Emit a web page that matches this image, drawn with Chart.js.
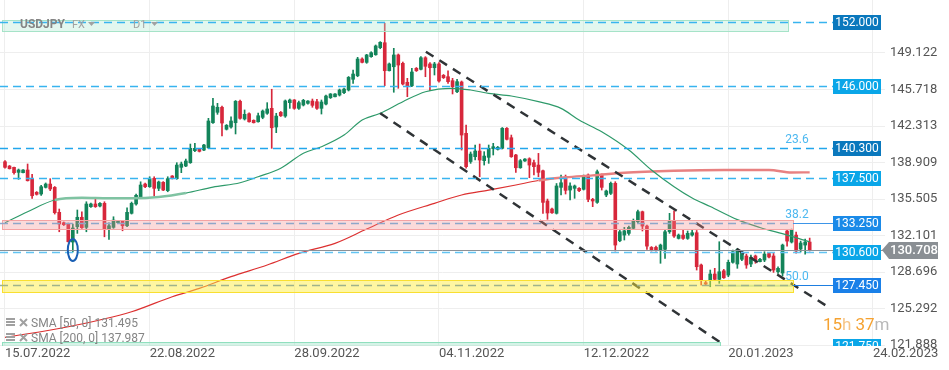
<!DOCTYPE html>
<html lang="pt-BR">
<head>
<meta charset="utf-8">
<title>USDJPY D1</title>
<script src="https://cdn.jsdelivr.net/npm/chart.js@4.4.0/dist/chart.umd.min.js"></script>
<style>
  html, body { margin: 0; padding: 0; background: #ffffff; overflow: hidden; }
  canvas { display: block; }
</style>
</head>
<body>
<canvas id="grafico" width="949" height="370"></canvas>
<script>
// Velas diárias USDJPY (FX, D1), 15.07.2022 até 10.02.2023
const opens = [
  138.98, 138.58, 138.46, 137.99, 137.96, 138.21, 137.40, 136.13, 135.97, 136.59,
  136.90, 136.59, 134.26, 133.29, 133.20, 131.49, 132.92, 133.80, 132.86, 134.79,
  135.04, 134.85, 135.10, 132.70, 132.86, 133.29, 133.45, 133.01, 134.17, 135.04,
  135.72, 136.90, 136.65, 137.43, 136.50, 137.06, 136.28, 137.65, 137.40, 138.46,
  138.58, 138.89, 140.01, 140.17, 140.07, 140.29, 142.62, 143.59, 144.06, 142.01,
  142.22, 142.62, 144.62, 142.97, 143.46, 142.84, 142.71, 143.12, 143.50, 143.96,
  142.22, 143.59, 143.24, 144.49, 144.74, 143.96, 144.27, 144.43, 144.64, 144.58,
  143.96, 144.36, 144.95, 145.04, 145.20, 145.42, 145.67, 146.67, 147.00, 148.56,
  148.25, 148.78, 148.96, 149.62, 150.08, 147.47, 147.84, 148.94, 148.16, 146.39,
  146.07, 147.69, 147.60, 148.68, 148.10, 147.75, 148.10, 147.04, 146.91, 146.54,
  145.51, 146.42, 141.63, 139.00, 139.45, 139.98, 139.08, 139.39, 140.20, 140.14,
  140.23, 142.10, 141.22, 139.61, 138.42, 139.05, 139.26, 138.89, 138.67, 138.14,
  135.32, 134.57, 134.17, 136.59, 137.43, 136.34, 136.50, 136.50, 136.41, 137.74,
  135.47, 135.19, 137.74, 135.88, 136.03, 136.97, 131.61, 132.14, 132.30, 132.77,
  133.38, 134.32, 132.98, 130.99, 130.99, 130.75, 130.81, 132.45, 133.48, 131.83,
  132.14, 131.83, 132.14, 132.36, 129.35, 127.70, 127.95, 128.51, 128.01, 128.81,
  128.41, 129.60, 129.44, 129.88, 130.19, 129.44, 130.19, 129.66, 129.81, 130.42,
  130.19, 128.72, 128.60, 132.52, 131.49, 132.14, 130.84, 131.21, 131.49
];
const highs = [
  139.08, 138.63, 138.49, 138.30, 138.26, 138.77, 137.81, 136.20, 136.78, 137.00,
  137.40, 136.67, 134.57, 133.36, 133.26, 133.17, 134.48, 134.32, 135.25, 135.13,
  135.47, 135.17, 135.25, 133.29, 133.85, 133.50, 133.50, 134.69, 135.22, 135.97,
  137.11, 137.00, 137.58, 137.58, 137.18, 137.13, 137.58, 137.69, 138.89, 138.95,
  139.23, 140.63, 140.70, 140.21, 140.61, 143.03, 144.90, 144.43, 144.18, 142.45,
  143.18, 144.69, 144.74, 143.81, 143.55, 142.89, 143.52, 143.81, 144.49, 145.74,
  143.50, 143.67, 144.74, 144.83, 144.78, 144.64, 144.80, 144.69, 144.83, 144.80,
  144.74, 145.20, 145.34, 145.34, 145.76, 145.86, 146.93, 147.54, 148.72, 148.66,
  149.00, 149.24, 149.87, 150.18, 151.90, 148.19, 149.56, 149.03, 148.28, 146.76,
  147.69, 147.77, 148.78, 148.78, 148.22, 148.25, 148.22, 147.12, 147.47, 146.76,
  146.67, 146.51, 142.41, 139.89, 140.54, 140.63, 139.92, 140.54, 140.70, 140.41,
  142.17, 142.17, 141.47, 139.67, 139.19, 139.28, 139.35, 139.14, 139.76, 138.21,
  135.50, 134.66, 136.95, 137.74, 137.74, 137.02, 136.81, 136.57, 137.74, 137.84,
  135.57, 138.21, 137.84, 136.34, 137.09, 137.12, 132.61, 132.86, 132.98, 133.64,
  134.48, 134.38, 133.08, 131.07, 131.11, 131.30, 132.61, 134.17, 134.41, 132.24,
  132.61, 132.52, 132.61, 132.57, 129.44, 127.86, 128.88, 129.04, 131.52, 128.94,
  129.81, 130.75, 130.90, 130.59, 130.37, 130.28, 130.28, 129.96, 130.59, 130.50,
  130.43, 129.19, 131.30, 132.61, 132.70, 132.42, 131.58, 131.77, 131.86
];
const lows = [
  138.37, 138.30, 137.83, 137.34, 137.93, 137.18, 135.57, 135.87, 135.85, 136.53,
  136.28, 134.10, 132.45, 133.03, 131.49, 130.56, 132.30, 132.77, 132.45, 134.71,
  134.72, 134.76, 131.98, 131.74, 132.77, 133.26, 132.54, 132.92, 134.10, 134.94,
  135.66, 136.57, 136.59, 135.78, 136.28, 136.28, 136.18, 137.37, 137.34, 137.96,
  138.52, 138.83, 139.92, 139.89, 140.01, 140.20, 142.56, 143.40, 141.38, 141.94,
  142.10, 141.57, 142.94, 142.87, 142.66, 142.59, 142.66, 142.99, 143.40, 140.23,
  141.69, 143.20, 143.12, 143.96, 143.87, 143.87, 144.18, 144.36, 144.06, 143.87,
  143.43, 144.27, 144.88, 145.02, 145.11, 145.34, 145.58, 146.29, 146.91, 148.19,
  148.16, 148.72, 148.91, 149.52, 146.07, 147.44, 145.46, 145.83, 146.14, 145.05,
  145.98, 147.40, 147.54, 146.91, 145.60, 147.07, 146.39, 146.74, 146.29, 145.30,
  145.42, 140.07, 138.37, 138.83, 139.14, 137.58, 138.67, 138.83, 139.61, 140.07,
  140.17, 141.01, 139.39, 137.99, 138.37, 139.00, 137.49, 137.74, 137.58, 134.17,
  133.61, 134.15, 134.10, 135.88, 135.97, 135.41, 135.57, 136.20, 136.34, 135.25,
  134.79, 135.10, 136.34, 135.72, 135.92, 130.65, 131.52, 131.68, 132.14, 132.70,
  133.29, 132.52, 130.81, 130.65, 130.65, 129.51, 129.97, 132.30, 131.93, 131.77,
  131.74, 131.74, 132.05, 128.88, 127.48, 127.48, 127.32, 127.95, 127.64, 128.10,
  128.26, 129.51, 129.04, 129.75, 129.04, 129.19, 129.51, 129.63, 129.66, 130.00,
  128.66, 128.57, 128.32, 131.11, 131.40, 130.46, 130.56, 130.37, 130.65
];
const closes = [
  138.46, 138.33, 137.96, 138.21, 138.21, 137.21, 135.81, 135.94, 136.65, 136.90,
  136.44, 134.23, 133.17, 133.11, 131.52, 132.80, 133.80, 132.83, 135.04, 135.04,
  134.79, 135.10, 132.70, 133.01, 133.54, 133.45, 133.01, 134.26, 135.10, 135.85,
  136.81, 136.65, 137.40, 136.50, 137.09, 136.34, 137.40, 137.40, 138.67, 138.77,
  139.05, 140.23, 140.23, 139.95, 140.54, 142.78, 144.18, 144.06, 142.59, 142.38,
  142.78, 144.62, 143.03, 143.40, 142.71, 142.62, 143.27, 143.71, 143.90, 142.15,
  143.24, 143.27, 144.65, 144.74, 143.96, 144.49, 144.71, 144.64, 144.24, 143.96,
  144.55, 145.11, 145.30, 145.30, 145.67, 145.76, 146.85, 147.16, 148.56, 148.25,
  148.94, 149.15, 149.78, 150.12, 147.47, 148.10, 148.94, 148.00, 146.23, 146.07,
  147.35, 147.47, 148.68, 147.88, 147.75, 148.10, 146.51, 146.82, 146.45, 145.98,
  146.45, 141.47, 138.52, 139.70, 139.98, 139.14, 139.51, 140.23, 140.38, 140.33,
  142.10, 141.07, 139.45, 138.42, 139.08, 139.23, 138.67, 138.52, 137.99, 135.19,
  134.20, 134.22, 136.72, 137.02, 136.31, 136.72, 136.72, 136.28, 137.65, 135.47,
  135.32, 138.05, 136.59, 136.25, 136.97, 131.21, 132.45, 132.54, 132.86, 133.48,
  134.32, 132.98, 131.11, 130.75, 130.75, 131.21, 132.45, 133.48, 132.05, 132.14,
  131.83, 132.30, 132.36, 129.19, 127.95, 127.57, 128.51, 128.01, 128.72, 128.16,
  129.60, 130.59, 130.81, 130.49, 129.35, 130.07, 129.75, 129.88, 130.37, 130.09,
  128.88, 129.04, 131.21, 131.58, 132.61, 130.65, 131.40, 131.49, 130.708
];

// Eixo X: posição (índice da vela) de cada data; 24.02.2023 fica no futuro
const dateLabels = ['15.07.2022', '22.08.2022', '28.09.2022', '04.11.2022', '12.12.2022', '20.01.2023', '24.02.2023'];
const dateIdx = [0, 32, 64, 96, 128, 160, 192];

// Eixo Y
const yTicks = [121.888, 125.292, 128.696, 132.101, 135.505, 138.909, 142.313, 145.718, 149.122];

// Médias móveis
const sma50Idx = [0, 5, 11, 17, 23, 28, 34, 40, 46, 52, 56, 61, 66, 70, 75, 79, 83, 88, 93, 99, 103, 107, 112, 118, 123, 127, 132, 138, 143, 148, 152, 156, 162, 167, 173, 178];
const sma50Val = [133.29, 134.32, 135.41, 135.62, 135.57, 135.57, 135.69, 136.06, 136.62, 137.02, 137.58, 138.37, 139.77, 140.38, 141.47, 142.87, 143.50, 144.58, 145.51, 145.83, 145.67, 145.36, 145.11, 144.58, 143.96, 142.87, 141.77, 140.07, 138.21, 136.65, 135.60, 134.80, 133.58, 132.85, 132.14, 131.50];
const sma200Idx = [0, 14, 28, 37, 43, 50, 58, 65, 73, 80, 87, 95, 101, 107, 113, 118, 124, 130, 137, 148, 159, 169, 174, 178];
const sma200Val = [122.60, 123.59, 124.99, 126.39, 127.17, 128.26, 129.35, 130.44, 131.37, 132.70, 134.01, 135.10, 135.88, 136.34, 136.81, 137.23, 137.53, 137.71, 137.96, 138.14, 138.21, 138.21, 137.98, 137.99];
const sma50Last = 131.495;
const sma200Last = 137.987;

// Canal de baixa (linhas tracejadas pretas)
const upperIdx = [93.1, 181.8];
const upperVal = [149.24, 125.52];
const lowerIdx = [83.0, 158.2];
const lowerVal = [143.50, 122.14];

// Níveis horizontais, zonas e textos
const levels = [152.000, 146.000, 140.300, 137.500, 133.250, 130.600, 127.450, 121.750];
const lastPrice = 130.708;
const fibText = ['23.6', '38.2', '50.0'];
const fibLevel = [140.300, 133.250, 127.450];
const zoneTop = [152.20, 133.54, 127.95, 122.20];
const zoneBottom = [151.17, 132.68, 126.83, 121.00];
const zoneEndIdx = [173.2, 174.3, 174.3, 158.2];
const supportIdx = [158.5, 174.3];
const supportVal = [127.42, 127.42];
const markIdx = 15;
const markVal = 130.75;
const timerParts = ['15', 'h', '37', 'm'];

const FONT = 'Roboto, "Noto Sans", sans-serif';
const GREEN = '#13845a';
const RED = '#d7273b';

const idx = opens.map((_, i) => i);
const candleColor = idx.map(i => closes[i] >= opens[i] ? GREEN : RED);
const wicks = idx.map(i => ({ x: i, y: [lows[i], highs[i]] }));
const bodies = idx.map(i => ({ x: i, y: [opens[i], closes[i]] }));
const pts = (xs, ys) => xs.map((v, i) => ({ x: v, y: ys[i] }));

// estilos das zonas e das etiquetas de preço
const zoneStyle = [
  { fill: 'rgba(175,232,208,0.35)', border: '#a6e3c8' },
  { fill: 'rgba(244,140,140,0.32)', border: '#f5a3a3' },
  { fill: 'rgba(253,236,60,0.48)', border: '#f9df30' },
  { fill: 'rgba(150,226,196,0.40)', border: '#90dfbe' }
];
const levelStyle = [
  { dash: '#38b4ef', bg: '#0a78bd' },
  { dash: '#38b4ef', bg: '#0aa6e8' },
  { dash: '#22a6ec', bg: '#0a78bd' },
  { dash: '#38b4ef', bg: '#0aa6e8' },
  { dash: '#8fa7c9', bg: '#1a8ae8', zone: 1, tail: '#3d95e8' },
  { dash: '#62c4f2', bg: '#0aa6e8' },
  { dash: '#9fb38c', bg: '#1a80e8', zone: 2, tail: '#1e7ee0' },
  { dash: null, bg: '#0aa6e8' }
];

function priceTag(ctx, text, left, cy, bg) {
  ctx.fillStyle = bg;
  ctx.fillRect(left, Math.round(cy) - 7, 48, 15);
  ctx.fillStyle = '#ffffff';
  ctx.font = '12px ' + FONT;
  ctx.textAlign = 'center';
  ctx.textBaseline = 'middle';
  ctx.fillText(text, left + 24, Math.round(cy) + 1);
}

const overlay = {
  id: 'overlay',
  afterDatasetsDraw(chart) {
    const { ctx, chartArea: a, scales: { x, y } } = chart;
    const tagLeft = a.right - 52;

    ctx.save();
    ctx.beginPath();
    ctx.rect(a.left, a.top, a.right - a.left, a.bottom - a.top);
    ctx.clip();

    // zonas por cima das velas
    zoneTop.forEach((top, k) => {
      const x0 = x.getPixelForValue(-0.66);
      const x1 = x.getPixelForValue(zoneEndIdx[k]);
      const y0 = Math.round(y.getPixelForValue(top));
      const y1 = Math.round(y.getPixelForValue(zoneBottom[k]));
      ctx.fillStyle = zoneStyle[k].fill;
      ctx.fillRect(x0, y0, x1 - x0, y1 - y0);
      ctx.strokeStyle = zoneStyle[k].border;
      ctx.lineWidth = 1;
      ctx.strokeRect(Math.round(x0) + 0.5, y0 + 0.5, Math.round(x1 - x0), y1 - y0);
    });

    // linha do preço atual
    const pyLast = Math.round(y.getPixelForValue(lastPrice)) + 0.5;
    ctx.strokeStyle = '#8d9196';
    ctx.lineWidth = 1;
    ctx.beginPath();
    ctx.moveTo(a.left, pyLast);
    ctx.lineTo(a.right, pyLast);
    ctx.stroke();

    // níveis tracejados
    levels.forEach((lv, k) => {
      const st = levelStyle[k];
      const py = Math.round(y.getPixelForValue(lv)) + 0.5;
      if (st.dash) {
        const end = st.zone ? x.getPixelForValue(zoneEndIdx[st.zone]) : tagLeft;
        ctx.strokeStyle = st.dash;
        ctx.lineWidth = 1.5;
        ctx.setLineDash([8, 5]);
        ctx.beginPath();
        ctx.moveTo(a.left, py);
        ctx.lineTo(end, py);
        ctx.stroke();
        ctx.setLineDash([]);
        if (st.tail) {
          ctx.strokeStyle = st.tail;
          ctx.lineWidth = 1;
          ctx.beginPath();
          ctx.moveTo(end, py);
          ctx.lineTo(tagLeft, py);
          ctx.stroke();
        }
      }
      if (k === levels.length - 1) priceTag(ctx, lv.toFixed(3), tagLeft, y.getPixelForValue(lv), st.bg);
    });

    // elipse azul marcando a mínima
    ctx.strokeStyle = '#1a5fb4';
    ctx.lineWidth = 2;
    ctx.beginPath();
    ctx.ellipse(x.getPixelForValue(markIdx), y.getPixelForValue(markVal), 5, 11, 0, 0, Math.PI * 2);
    ctx.stroke();
    ctx.restore();

    // etiquetas de preço
    ctx.save();
    levels.slice(0, -1).forEach((lv, k) => {
      priceTag(ctx, lv.toFixed(3), tagLeft, y.getPixelForValue(lv), levelStyle[k].bg);
    });

    // etiqueta do último preço (seta cinza)
    const cy = Math.round(y.getPixelForValue(lastPrice));
    ctx.fillStyle = '#8a8f94';
    ctx.beginPath();
    ctx.moveTo(a.right - 3, cy);
    ctx.lineTo(a.right + 4, cy - 8);
    ctx.lineTo(a.right + 53, cy - 8);
    ctx.lineTo(a.right + 53, cy + 9);
    ctx.lineTo(a.right + 4, cy + 9);
    ctx.closePath();
    ctx.fill();
    ctx.fillStyle = '#ffffff';
    ctx.font = '500 13px ' + FONT;
    ctx.textAlign = 'left';
    ctx.textBaseline = 'middle';
    ctx.fillText(lastPrice.toFixed(3), a.right + 5, cy + 1);

    // textos de Fibonacci
    ctx.fillStyle = '#4cb8f0';
    ctx.font = '12px ' + FONT;
    fibText.forEach((t, k) => {
      ctx.fillText(t, x.getPixelForValue(172.6), y.getPixelForValue(fibLevel[k]) - 8);
    });

    // cabeçalho
    ctx.font = 'bold 12px ' + FONT;
    ctx.fillStyle = '#858585';
    ctx.fillText('USDJPY', 20, 25);
    ctx.font = '11px ' + FONT;
    ctx.fillStyle = '#a2a2a2';
    ctx.fillText('FX', 72, 25);
    ctx.fillText('D1', 133, 25);
    [[88, 22], [151, 22]].forEach(([tx, ty]) => {
      ctx.beginPath();
      ctx.moveTo(tx, ty);
      ctx.lineTo(tx + 7, ty);
      ctx.lineTo(tx + 3.5, ty + 4);
      ctx.closePath();
      ctx.fill();
    });

    // legenda das médias
    const legend = [['SMA [50, 0] ' + sma50Last.toFixed(3), 323], ['SMA [200, 0] ' + sma200Last.toFixed(3), 338]];
    legend.forEach(([t, ly]) => {
      ctx.fillStyle = '#a0a0a0';
      ctx.fillRect(6, ly - 5, 9, 2);
      ctx.fillRect(6, ly - 2, 9, 2);
      ctx.fillRect(6, ly + 1, 9, 2);
      ctx.strokeStyle = '#a0a0a0';
      ctx.lineWidth = 2;
      ctx.beginPath();
      ctx.moveTo(20, ly - 4); ctx.lineTo(27, ly + 3);
      ctx.moveTo(27, ly - 4); ctx.lineTo(20, ly + 3);
      ctx.stroke();
      ctx.fillStyle = '#858585';
      ctx.font = '12px ' + FONT;
      ctx.fillText(t, 31, ly + 1);
    });

    // contador de tempo da vela
    const timerColor = ['#f5a231', '#f6c588', '#f5a231', '#b8b8b8'];
    ctx.font = '17px ' + FONT;
    let tx = 823;
    timerParts.forEach((t, k) => {
      ctx.fillStyle = timerColor[k];
      ctx.fillText(t, tx, 326);
      tx += ctx.measureText(t).width + (k === 1 ? 4 : 0);
    });
    ctx.restore();
  }
};

new Chart(document.getElementById('grafico'), {
  type: 'line',
  data: {
    datasets: [
      { type: 'line', data: pts(upperIdx, upperVal), borderColor: '#2f3336', borderWidth: 2.5, borderDash: [9, 7], pointRadius: 0, order: 0 },
      { type: 'line', data: pts(lowerIdx, lowerVal), borderColor: '#2f3336', borderWidth: 2.5, borderDash: [9, 7], pointRadius: 0, order: 0 },
      { type: 'line', data: pts(supportIdx, supportVal), borderColor: 'rgba(60,170,120,0.35)', borderWidth: 2, pointRadius: 0, order: 0 },
      {
        type: 'line', data: pts(sma50Idx, sma50Val), borderColor: '#2e9a6a', borderWidth: 1.2,
        pointRadius: 0, cubicInterpolationMode: 'monotone', order: 1,
        segment: {
          borderColor: c => (c.p0.parsed.x >= 11 && c.p0.parsed.x < 40) ? '#7fc3a2' : '#2e9a6a',
          borderWidth: c => (c.p0.parsed.x >= 11 && c.p0.parsed.x < 40) ? 2.4 : 1.2
        }
      },
      {
        type: 'line', data: pts(sma200Idx, sma200Val), borderColor: '#d9342b', borderWidth: 1.2,
        pointRadius: 0, cubicInterpolationMode: 'monotone', order: 1,
        segment: {
          borderColor: c => c.p0.parsed.x >= 118 ? '#e88181' : '#dc3030',
          borderWidth: c => c.p0.parsed.x >= 118 ? 2.4 : 1.2
        }
      },
      { type: 'bar', data: bodies, backgroundColor: candleColor, barThickness: 3, grouped: false, borderWidth: 0, borderSkipped: false, order: 2 },
      { type: 'bar', data: wicks, backgroundColor: candleColor, barThickness: 1, grouped: false, borderWidth: 0, borderSkipped: false, order: 3 }
    ]
  },
  options: {
    responsive: false,
    animation: false,
    layout: { padding: 0 },
    plugins: { legend: { display: false }, tooltip: { enabled: false } },
    scales: {
      x: {
        type: 'linear', min: -1.106, max: 194.66, offset: false,
        afterBuildTicks: s => { s.ticks = dateIdx.map(v => ({ value: v })); },
        afterFit: s => { s.height = 24; s.paddingLeft = 0; s.paddingRight = 0; },
        ticks: {
          align: 'start', autoSkip: false, maxRotation: 0, padding: 0,
          color: '#555555', font: { family: FONT, size: 13 },
          callback: (v, i) => dateLabels[i]
        },
        grid: { color: '#eeeeee', drawTicks: false, offset: false },
        border: { display: false }
      },
      y: {
        position: 'right', min: 121.795, max: 154.065,
        afterBuildTicks: s => { s.ticks = yTicks.map(v => ({ value: v })); },
        afterFit: s => { s.width = 64; s.paddingTop = 0; s.paddingBottom = 0; },
        ticks: {
          padding: 5, color: '#555555', font: { family: FONT, size: 13 },
          callback: v => v.toFixed(3)
        },
        grid: { color: '#eeeeee', drawTicks: false },
        border: { display: false }
      }
    }
  },
  plugins: [overlay]
});
</script>
</body>
</html>
